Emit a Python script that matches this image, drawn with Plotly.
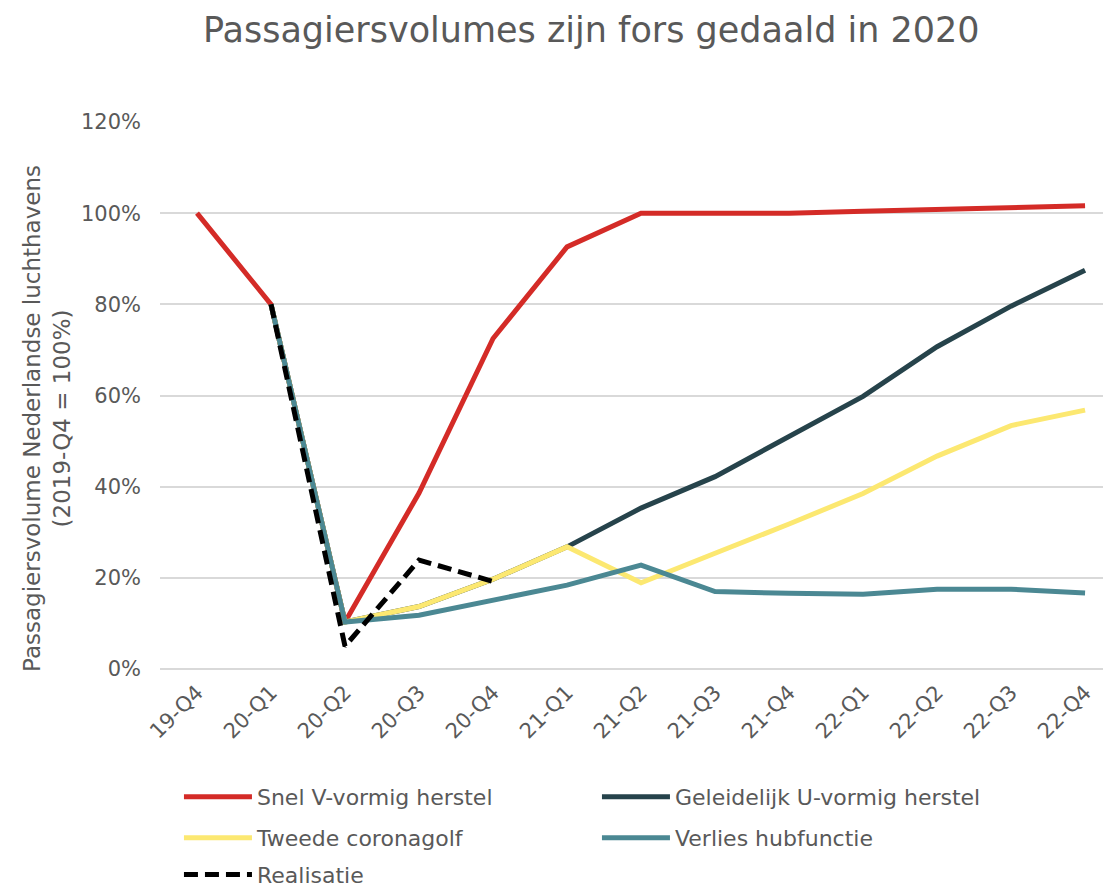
import plotly.graph_objects as go

quarters = ["19-Q4", "20-Q1", "20-Q2", "20-Q3", "20-Q4", "21-Q1", "21-Q2",
            "21-Q3", "21-Q4", "22-Q1", "22-Q2", "22-Q3", "22-Q4"]

snel_v = [1.00, 0.80, 0.103, 0.386, 0.725, 0.926, 1.00, 1.00, 1.00, 1.004, 1.008, 1.012, 1.016]
geleidelijk_u = [None, 0.80, 0.103, 0.137, 0.197, 0.268, 0.353, 0.422, 0.509, 0.598, 0.707, 0.796, 0.875]
tweede_golf = [None, 0.80, 0.103, 0.137, 0.197, 0.268, 0.189, 0.254, 0.318, 0.385, 0.467, 0.534, 0.568]
verlies_hub = [None, 0.80, 0.103, 0.118, 0.150, 0.184, 0.228, 0.170, 0.166, 0.164, 0.175, 0.175, 0.167]
realisatie = [None, 0.80, 0.050, 0.239, 0.192, None, None, None, None, None, None, None, None]

names = ["Snel V-vormig herstel", "Geleidelijk U-vormig herstel", "Tweede coronagolf",
         "Verlies hubfunctie", "Realisatie"]
colors = ["#D42B27", "#26434B", "#FCE871", "#4B8893", "#000000"]
legend_ids = ["legend", "legend", "legend2", "legend2", "legend3"]

FONT = "DejaVu Sans"
GREY = "#595959"

fig = go.Figure()
series = [snel_v, geleidelijk_u, tweede_golf, verlies_hub, realisatie]
for i, (name, vals, col, lg) in enumerate(zip(names, series, colors, legend_ids)):
    fig.add_trace(go.Scatter(
        x=quarters, y=vals, name=name, mode="lines",
        line=dict(color=col, width=5, dash="14px,7px" if name == "Realisatie" else "solid"),
        legendrank=i + 1, legend=lg, connectgaps=False,
    ))

leg_common = dict(orientation="h", x=0.02, xanchor="left", yanchor="middle",
                  entrywidth=335, entrywidthmode="pixels",
                  font=dict(size=22, color=GREY, family=FONT), itemwidth=68,
                  traceorder="normal", bgcolor="rgba(0,0,0,0)")

fig.update_layout(
    width=1111, height=888,
    paper_bgcolor="white", plot_bgcolor="white",
    margin=dict(l=152, r=11, t=114, b=227, autoexpand=False),
    font=dict(family=FONT, color=GREY, size=20),
    title=dict(text="Passagiersvolumes zijn fors gedaald in 2020", x=0.525, xanchor="center",
               y=0.975, yanchor="middle", font=dict(size=35, color=GREY, family=FONT)),
    showlegend=True,
    legend=dict(leg_common, y=-0.234),
    legend2=dict(leg_common, y=-0.309),
    legend3=dict(leg_common, y=-0.376),
    annotations=[dict(text="Passagiersvolume Nederlandse luchthavens<br>(2019-Q4 = 100%)",
                      xref="paper", yref="paper", x=-0.1192, y=0.459,
                      xanchor="center", yanchor="middle", textangle=-90, showarrow=False,
                      align="center", font=dict(size=23, color=GREY, family=FONT))],
)
fig.update_xaxes(type="category", range=[-0.5, 12.31], showgrid=False, tickangle=-45,
                 ticks="", showline=False, tickfont=dict(size=21, color=GREY),
                 ticklabelstandoff=6)
fig.update_yaxes(range=[0, 1.2], tickvals=[0, 0.2, 0.4, 0.6, 0.8, 1.0, 1.2],
                 tickformat=".0%", showgrid=True, gridcolor="#D9D9D9", gridwidth=1.5,
                 zeroline=True, zerolinecolor="#D9D9D9", zerolinewidth=1.5,
                 ticks="", showline=False, tickfont=dict(size=21, color=GREY),
                 ticklabelstandoff=18)

fig.write_html("out.html")
